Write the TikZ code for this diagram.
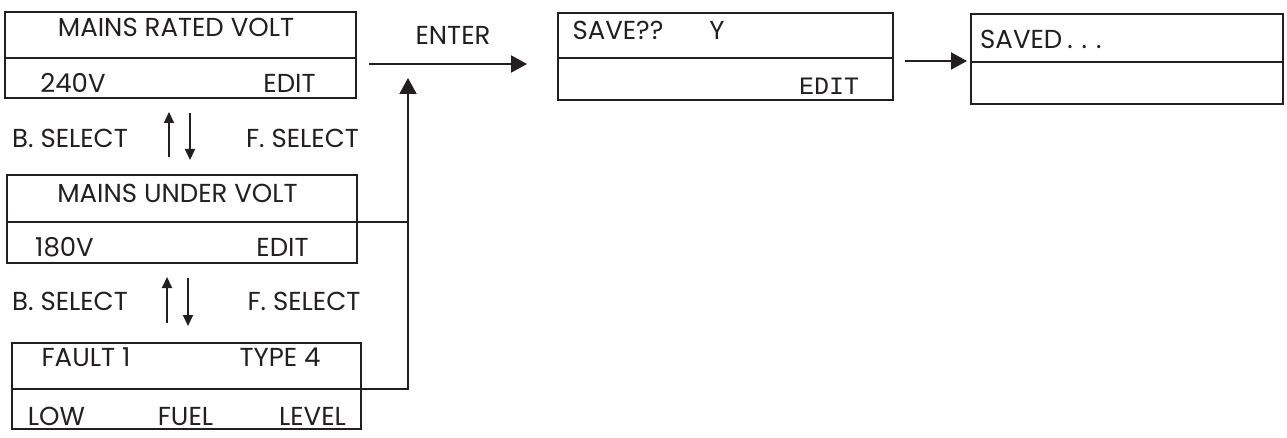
\documentclass[tikz,border=0pt]{standalone}
\usepackage{fontspec}
\setmainfont{Poppins}
\newfontfamily\panelmono{Liberation Mono}
\usetikzlibrary{arrows.meta}
\definecolor{ink}{HTML}{231F20}
\tikzset{
  panel/.style={draw=ink, line width=2pt, inner sep=0pt, outer sep=0pt, anchor=north west},
  lbl/.style={text=ink, inner sep=0pt, anchor=base, font=\fontsize{26}{26}\selectfont},
  monolbl/.style={text=ink, inner sep=0pt, anchor=base, font=\fontsize{25}{25}\panelmono},
  wire/.style={draw=ink, line width=2pt},
  smallarrow/.style={wire, -{Triangle[width=10pt,length=11pt]}},
  bigarrow/.style={wire, -{Triangle[width=17pt,length=16pt]}}
}
\begin{document}
\begin{tikzpicture}[x=1pt, y=-1pt]
\useasboundingbox (0,0) rectangle (1287,438);

% menu panels: upper and lower halves
\node[panel, minimum width=351pt, minimum height=46pt] (b1t) at (5,12) {};
\node[panel, minimum width=351pt, minimum height=40pt] (b1b) at (5,58) {};
\node[panel, minimum width=350pt, minimum height=47pt] (b2t) at (7,175) {};
\node[panel, minimum width=350pt, minimum height=41pt] (b2b) at (7,222) {};
\node[panel, minimum width=349pt, minimum height=46pt] (b3t) at (12,343) {};
\node[panel, minimum width=349pt, minimum height=40pt] (b3b) at (12,389) {};
\node[panel, minimum width=335pt, minimum height=45pt] (b4t) at (558,13) {};
\node[panel, minimum width=335pt, minimum height=42pt] (b4b) at (558,58) {};
\node[panel, minimum width=312pt, minimum height=48pt] (b5t) at (971,14) {};
\node[panel, minimum width=312pt, minimum height=42pt] (b5b) at (971,62) {};

% panel texts
\node[lbl] (t1a) at (176,37) {MAINS RATED VOLT};
\node[lbl] (t1b) at (73,93) {240V};
\node[lbl] (t1c) at (289.5,93) {EDIT};
\node[lbl] (t2a) at (177.5,203) {MAINS UNDER VOLT};
\node[lbl] (t2b) at (64.5,257) {180V};
\node[lbl] (t2c) at (282.5,257) {EDIT};
\node[lbl] (t3a) at (86,366) {FAULT 1};
\node[lbl] (t3b) at (280,366) {TYPE 4};
\node[lbl] (t3c) at (56.5,425) {LOW};
\node[lbl] (t3d) at (185.5,425) {FUEL};
\node[lbl] (t3e) at (312.5,425) {LEVEL};
\node[lbl] (t4a) at (618,40) {SAVE??};
\node[lbl] (t4b) at (717,40) {Y};
\node[monolbl] (t4c) at (829,95) {EDIT};
\node[lbl, anchor=base west] (t5a) at (980,49) {SAVED\hspace{5pt}.\hspace{9pt}.\hspace{9pt}.};

% key labels
\node[lbl] (k1) at (70,148) {B. SELECT};
\node[lbl] (k2) at (302.5,148) {F. SELECT};
\node[lbl] (k3) at (70,310) {B. SELECT};
\node[lbl] (k4) at (304,310) {F. SELECT};
\node[lbl] (k5) at (453,45) {ENTER};

% scroll arrows between panels
\coordinate (u1s) at (169,157); \coordinate (u1e) at (169,112);
\coordinate (d1s) at (190,113); \coordinate (d1e) at (190,160);
\coordinate (u2s) at (167,323); \coordinate (u2e) at (167,277);
\coordinate (d2s) at (188,278); \coordinate (d2e) at (188,326);
\draw[smallarrow] (u1s) -- (u1e);
\draw[smallarrow] (d1s) -- (d1e);
\draw[smallarrow] (u2s) -- (u2e);
\draw[smallarrow] (d2s) -- (d2e);

% enter path
\coordinate (ent0) at (369,64);
\coordinate (ent1) at (527,64);
\coordinate (bus) at (408,78);
\coordinate (sv0) at (905,61);
\coordinate (sv1) at (967,61);
\draw[bigarrow] (ent0) -- (ent1);
\draw[wire] (b2t.south east) -- (b2t.south east -| bus);
\draw[bigarrow] (b3t.south east) -| (bus);
\draw[bigarrow] (sv0) -- (sv1);
\end{tikzpicture}
\end{document}
